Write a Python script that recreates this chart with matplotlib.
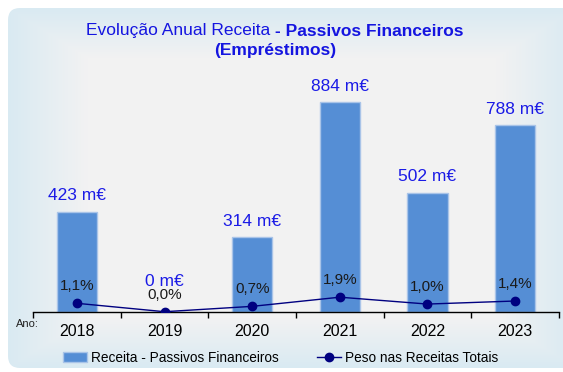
import numpy as np
import matplotlib
matplotlib.use("Agg")
import matplotlib.pyplot as plt
from matplotlib.patches import FancyBboxPatch
from matplotlib.colors import to_rgb

plt.rcParams['font.family'] = ['Liberation Sans', 'DejaVu Sans']

# Receita - Passivos Financeiros (milhares de euros) e peso nas receitas totais (%)
anos = ['2018', '2019', '2020', '2021', '2022', '2023']
receita = [423, 0, 314, 884, 502, 788]
peso = [1.1, 0.0, 0.7, 1.9, 1.0, 1.4]

W, H = 563, 372
fig = plt.figure(figsize=(W / 100, H / 100), dpi=100)

# painel de fundo com gradiente (cinza no centro, azul claro nas margens)
bg = fig.add_axes([0, 0, 1, 1], zorder=0)
bg.set_xlim(0, W)
bg.set_ylim(H, 0)
bg.axis('off')
px, py = np.meshgrid(np.arange(W) + 0.5, np.arange(H) + 0.5)
cx, cy, hw, hh = 292, 188, 284, 180
s = np.maximum(np.abs(px - cx) / hw, np.abs(py - cy) / hh)
t = np.clip((s - 0.72) / 0.28, 0, 1)[..., None]
grey = np.array(to_rgb('#f2f2f2'))
blue = np.array(to_rgb('#d9eaf2'))
img = grey * (1 - t) + blue * t
im = bg.imshow(img, extent=(0, W, H, 0), interpolation='bilinear')
panel = FancyBboxPatch((8, 8), 600, 360, boxstyle='round,pad=0,rounding_size=12',
                       transform=bg.transData, facecolor='none', edgecolor='none')
bg.add_patch(panel)
im.set_clip_path(panel)

# eixo principal (barras)
ax = fig.add_axes([33 / W, 60.3 / H, 526 / W, 236.7 / H], zorder=2)
ax.patch.set_alpha(0)
x = np.arange(len(anos))
bars = ax.bar(x, receita, width=0.46, color='#558ed5', edgecolor='#a9c4e8',
              linewidth=1, label='Receita - Passivos Financeiros', zorder=2)
ax.set_xlim(-0.5, len(anos) - 0.5)
ax.set_ylim(0, 1000)
for side in ['top', 'left', 'right']:
    ax.spines[side].set_visible(False)
ax.spines['bottom'].set_color('black')
ax.spines['bottom'].set_linewidth(1)
ax.set_yticks([])
ax.set_xticks(x)
ax.set_xticklabels(anos, fontsize=11.5)
ax.set_xticks(np.arange(len(anos) + 1) - 0.5, minor=True)
ax.tick_params(axis='x', which='major', length=0, pad=9)
ax.tick_params(axis='x', which='minor', length=4, width=1, direction='out')

for xi, v in zip(x, receita):
    off = 22 if v == 0 else 11.5
    ax.annotate(f'{v} m€', (xi, v), xytext=(0, off), textcoords='offset points',
                ha='center', va='center', fontsize=12.5, color='#1a1ae6')

# eixo secundário (peso %)
ax2 = ax.twinx()
ax2.set_ylim(0, 31)
ax2.axis('off')
ln, = ax2.plot(x, peso, color='#000080', linewidth=1, marker='o', markersize=6,
               label='Peso nas Receitas Totais', zorder=3)
for xi, p in zip(x, peso):
    ax2.annotate(f'{p:.1f}%'.replace('.', ','), (xi, p), xytext=(0, 12.2),
                 textcoords='offset points', ha='center', va='center',
                 fontsize=11, color='#1a1a1a')

fig.text(16 / W, 1 - 324 / H, 'Ano:', fontsize=8, color='#222222', va='center')

# título com parte normal e parte a negrito
col_t = '#1515e0'
r = fig.canvas.get_renderer()
t1 = fig.text(0, 0, 'Evolução Anual Receita ', fontsize=12.5, color=col_t)
t2 = fig.text(0, 0, '- Passivos Financeiros', fontsize=12.5, color=col_t, fontweight='bold')
w1 = t1.get_window_extent(r).width
w2 = t2.get_window_extent(r).width
x0 = 275 - (w1 + w2) / 2
ty = 1 - 31 / H
t1.set_position((x0 / W, ty))
t2.set_position(((x0 + w1) / W, ty))
t1.set_va('center')
t2.set_va('center')
fig.text(275 / W, 1 - 51 / H, '(Empréstimos)', fontsize=12.5, color=col_t,
         fontweight='bold', ha='center', va='center')

fig.legend(handles=[bars, ln], loc='center', bbox_to_anchor=(280.5 / W, 14 / H),
           ncol=2, frameon=False, fontsize=9.8, handlelength=1.76,
           handletextpad=0.3, columnspacing=2.8, numpoints=1)

fig.savefig('out.png', dpi=100)
